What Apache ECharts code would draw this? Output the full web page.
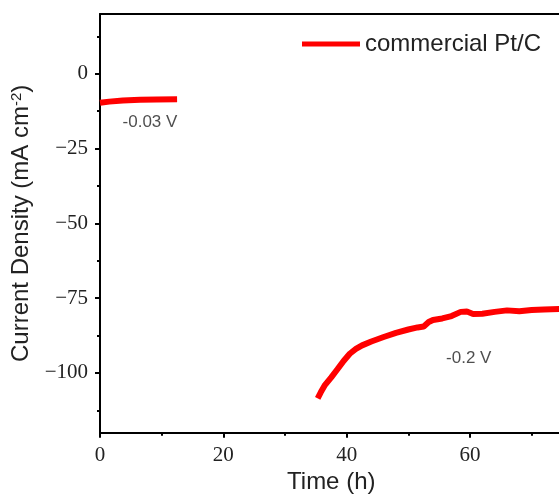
<!DOCTYPE html>
<html><head><meta charset="utf-8">
<script src="https://cdn.jsdelivr.net/npm/echarts@6/dist/echarts.min.js"></script>
<style>html,body{margin:0;padding:0;background:#fff}#c{width:559px;height:499px}</style>
</head><body><div id="c"></div>
<script>
// Data
const seriesName = 'commercial Pt/C';
const timeLow = [0, 1.5, 3.7, 6.5, 9.2, 12.5];
const currentLow = [-9.7, -9.3, -8.9, -8.7, -8.6, -8.5];
const timeHigh = [35.3, 35.8, 36.5, 37.5, 38.5, 39.5, 40.5, 41.5, 42.5, 44, 46, 48, 50, 51.5, 52.5, 53.3, 54, 55.5, 57, 58.5, 59.5, 60.5, 62, 64, 66, 68, 70, 72, 75];
const currentHigh = [-108.5, -106.5, -104, -101.5, -98.8, -96, -93.6, -92, -90.8, -89.5, -88, -86.6, -85.5, -84.8, -84.5, -83, -82.3, -81.8, -81, -79.6, -79.5, -80.3, -80.2, -79.6, -79.1, -79.4, -79, -78.8, -78.6];
const annotations = [
  {text: '-0.03 V', t: 8.1, v: -16.3},
  {text: '-0.2 V', t: 59.8, v: -95.2}
];
const xMajorTicks = [0, 20, 40, 60];
const xMinorTicks = [10, 30, 50, 70];
const yMajorTicks = [-100, -75, -50, -25, 0];
const yMinorTicks = [-112.5, -87.5, -62.5, -37.5, -12.5, 12.5];
const xRange = [0, 75];
const yRange = [-120, 20];

const lineData = [];
timeLow.forEach((t, i) => lineData.push([t, currentLow[i]]));
lineData.push(['-', '-']);
timeHigh.forEach((t, i) => lineData.push([t, currentHigh[i]]));

const fmtNum = v => (v < 0 ? '\u2212' + Math.abs(v) : String(v));
const labelFont = {fontFamily: 'Liberation Serif', fontSize: 21, color: '#222'};

const chart = echarts.init(document.getElementById('c'), null, {renderer: 'canvas'});
chart.setOption({
  animation: false,
  backgroundColor: '#fff',
  grid: {left: 100, top: 14, width: 462.5, height: 418.7, outerBoundsMode: 'none', containLabel: false},
  legend: {
    data: [seriesName], left: 297, top: 27, icon: 'rect', itemWidth: 58, itemHeight: 5, itemGap: 10,
    textStyle: {fontFamily: 'Liberation Sans', fontSize: 24, color: '#222'}
  },
  xAxis: [{
    type: 'value', min: xRange[0], max: xRange[1], position: 'bottom',
    name: 'Time (h)', nameLocation: 'middle', nameGap: 38,
    nameTextStyle: {fontFamily: 'Liberation Sans', fontSize: 24, color: '#222'},
    axisLine: {show: true, onZero: false, lineStyle: {color: '#000', width: 2}},
    axisTick: {show: true, customValues: xMajorTicks, length: 5, inside: false, lineStyle: {color: '#000', width: 2}},
    axisLabel: {customValues: xMajorTicks, margin: 12, formatter: fmtNum, ...labelFont},
    splitLine: {show: false}
  }, {
    type: 'value', min: xRange[0], max: xRange[1], position: 'bottom', gridIndex: 0,
    axisLine: {show: false, onZero: false},
    axisTick: {show: true, customValues: xMinorTicks, length: 3, lineStyle: {color: '#000', width: 2}},
    axisLabel: {show: false}, splitLine: {show: false}
  }, {
    type: 'value', min: xRange[0], max: xRange[1], position: 'top', gridIndex: 0,
    axisLine: {show: true, onZero: false, lineStyle: {color: '#000', width: 2}},
    axisTick: {show: false}, axisLabel: {show: false}, splitLine: {show: false}
  }],
  yAxis: [{
    type: 'value', min: yRange[0], max: yRange[1], position: 'left',
    name: '{a|Current Density (mA cm}{s|-2}{a|)}', nameLocation: 'middle', nameGap: 61,
    nameTextStyle: {
      rich: {
        a: {fontFamily: 'Liberation Sans', fontSize: 24, color: '#222'},
        s: {fontFamily: 'Liberation Sans', fontSize: 15, color: '#222', verticalAlign: 'top', padding: [0, 0, 10, 0]}
      }
    },
    axisLine: {show: true, onZero: false, lineStyle: {color: '#000', width: 2}},
    axisTick: {show: true, customValues: yMajorTicks, length: 5, lineStyle: {color: '#000', width: 2}},
    axisLabel: {customValues: yMajorTicks, margin: 12, padding: [2, 0, 0, 0], formatter: fmtNum, ...labelFont},
    splitLine: {show: false}
  }, {
    type: 'value', min: yRange[0], max: yRange[1], position: 'left',
    axisLine: {show: false, onZero: false},
    axisTick: {show: true, customValues: yMinorTicks, length: 3, lineStyle: {color: '#000', width: 2}},
    axisLabel: {show: false}, splitLine: {show: false}
  }],
  series: [{
    name: seriesName, type: 'line', data: lineData, showSymbol: false, symbol: 'none',
    connectNulls: false, lineStyle: {color: '#ff0000', width: 6}, itemStyle: {color: '#ff0000'},
    xAxisIndex: 0, yAxisIndex: 0
  }, {
    name: 'annot', type: 'scatter', symbolSize: 0, xAxisIndex: 0, yAxisIndex: 0,
    data: annotations.map(a => ({value: [a.t, a.v], label: {formatter: a.text}})),
    label: {show: true, position: 'inside', fontFamily: 'Liberation Sans', fontSize: 17, color: '#222'},
    silent: true
  }]
});
</script></body></html>
